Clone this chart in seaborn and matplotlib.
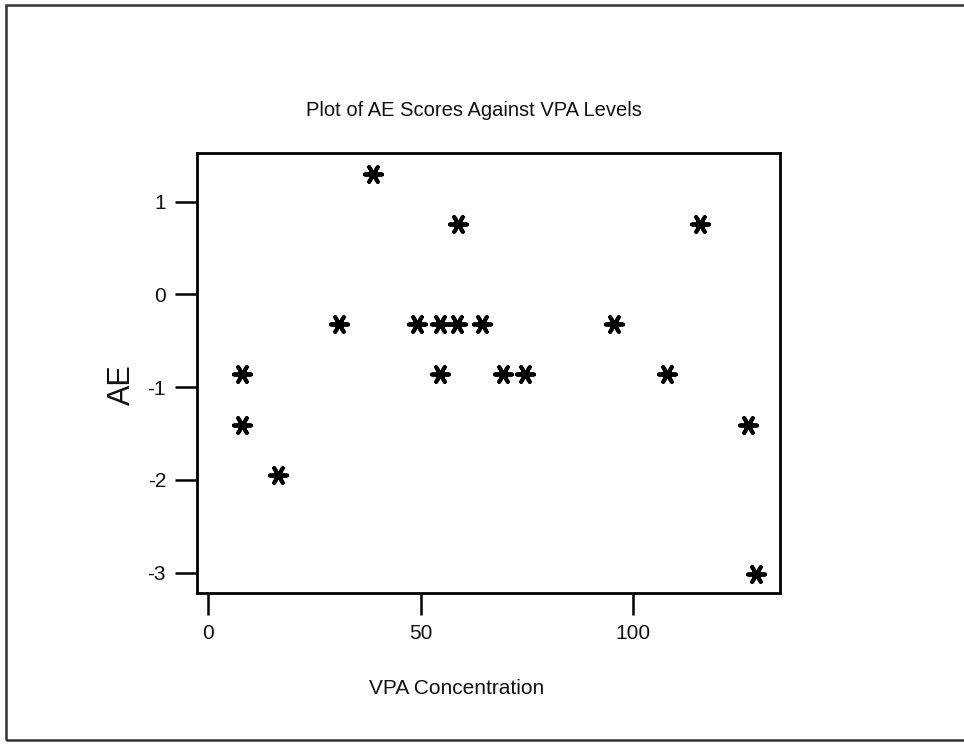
import matplotlib
matplotlib.use("Agg")
import matplotlib.pyplot as plt
import seaborn as sns
import pandas as pd
from matplotlib.patches import Rectangle

vpa = [8.0, 8.0, 16.5, 30.8, 38.7, 49.2, 54.5, 54.5, 58.5, 58.8, 64.4, 69.3, 74.5, 95.5, 108.0, 115.7, 126.9, 129.0]
ae = [-0.86, -1.41, -1.95, -0.32, 1.30, -0.32, -0.32, -0.86, -0.32, 0.76, -0.32, -0.86, -0.86, -0.32, -0.86, 0.76, -1.41, -3.02]
xticks = [0, 50, 100]
yticks = [-3, -2, -1, 0, 1]

sns.set_theme(style="white")
plt.rcParams['font.family'] = ['Liberation Sans', 'DejaVu Sans']

df = pd.DataFrame({"VPA Concentration": vpa, "AE": ae})

fig = plt.figure(figsize=(9.64, 7.44), dpi=100)
ax = fig.add_axes([0.204, 0.203, 0.605, 0.591])

sns.scatterplot(data=df, x="VPA Concentration", y="AE", ax=ax,
                marker=(6, 2, 90), s=150, color="black", linewidth=2.8,
                edgecolor="black", legend=False)

ax.set_xlim(-2.7, 134.5)
ax.set_ylim(-3.22, 1.52)
ax.set_xticks(xticks)
ax.set_yticks(yticks)
ax.set_xticklabels([str(t) for t in xticks])
ax.set_yticklabels([str(t) for t in yticks])
ax.tick_params(axis='both', direction='out', length=16, width=1.8, color='black',
               labelsize=15, labelcolor='#111111', bottom=True, left=True, pad=6)
for sp in ax.spines.values():
    sp.set_visible(True)
    sp.set_color('black')
    sp.set_linewidth(2.0)

ax.set_xlabel("")
ax.set_ylabel("")
fig.text(0.492, 0.852, "Plot of AE Scores Against VPA Levels", ha='center', va='center',
         fontsize=14.5, color='#111111')
fig.text(0.474, 0.075, "VPA Concentration", ha='center', va='center',
         fontsize=15, color='#111111')
fig.text(0.127, 0.483, "AE", ha='center', va='center', rotation=90,
         fontsize=22, color='#111111')

fig.patches.append(Rectangle((6 / 964, 4 / 744), 1.2, 735 / 744, transform=fig.transFigure,
                             fill=False, edgecolor='#333333', linewidth=1.8))

fig.savefig("out.png", dpi=100)
